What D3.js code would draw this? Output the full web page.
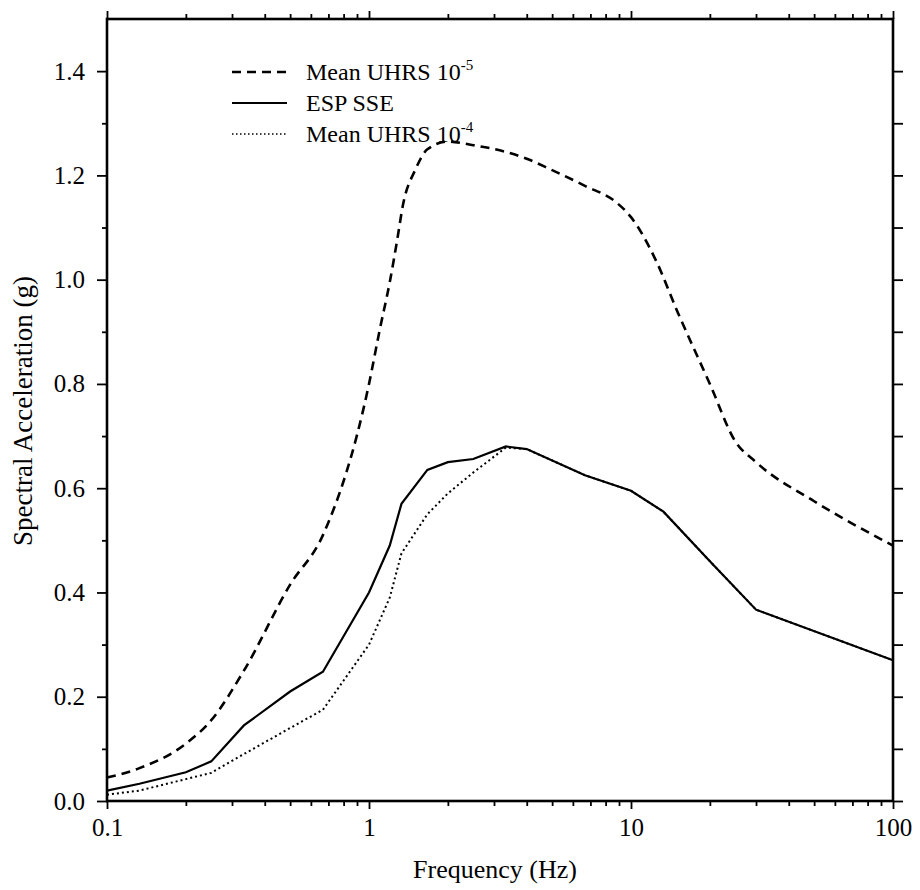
<!DOCTYPE html>
<html>
<head>
<meta charset="utf-8">
<script src="https://cdn.jsdelivr.net/npm/d3@7"></script>
<style>
  body { margin: 0; background: #fff; }
  svg { display: block; }
  svg text { font-family: "Liberation Serif", "DejaVu Serif", "Times New Roman", Times, serif !important; fill: #000; }
</style>
</head>
<body>
<svg id="chart" width="920" height="890"></svg>
<script>
// Mean UHRS 10^-5 (dashed)
const uhrs5Freq = [0.1, 0.133, 0.2, 0.25, 0.333, 0.5, 0.667, 1, 1.1, 1.2, 1.28, 1.35, 1.5, 1.67, 2, 2.5, 3.33, 4, 5, 6.67, 8.8, 10, 12.5, 15, 20, 25, 30, 50, 100];
const uhrs5Sa   = [0.045, 0.063, 0.11, 0.155, 0.25, 0.415, 0.51, 0.80, 0.905, 0.995, 1.075, 1.145, 1.21, 1.25, 1.265, 1.258, 1.245, 1.232, 1.21, 1.18, 1.148, 1.12, 1.035, 0.94, 0.80, 0.69, 0.65, 0.575, 0.49];

// ESP SSE (solid)
const sseFreq = [0.1, 0.133, 0.2, 0.25, 0.333, 0.5, 0.667, 1, 1.2, 1.33, 1.67, 2, 2.5, 3.33, 4, 6.67, 10, 13.3, 20, 30, 100];
const sseSa   = [0.02, 0.033, 0.055, 0.076, 0.145, 0.21, 0.248, 0.40, 0.49, 0.57, 0.635, 0.65, 0.656, 0.68, 0.675, 0.625, 0.595, 0.555, 0.46, 0.367, 0.27];

// Mean UHRS 10^-4 (dotted)
const uhrs4Freq = [0.1, 0.133, 0.2, 0.25, 0.333, 0.5, 0.667, 1, 1.2, 1.33, 1.67, 2, 2.5, 3.33, 4, 6.67, 10, 13.3, 20, 30, 100];
const uhrs4Sa   = [0.012, 0.02, 0.042, 0.054, 0.09, 0.14, 0.175, 0.30, 0.39, 0.475, 0.55, 0.59, 0.63, 0.678, 0.675, 0.625, 0.595, 0.555, 0.46, 0.367, 0.27];

const xMajor = [0.1, 1, 10, 100];
const xLabels = ['0.1', '1', '10', '100'];
const yMajor = [0, 0.2, 0.4, 0.6, 0.8, 1.0, 1.2, 1.4];

const width = 920, height = 890;
const margin = {top: 19, right: 27, bottom: 89, left: 107};
const iw = width - margin.left - margin.right;
const ih = height - margin.top - margin.bottom;
const serif = '"Liberation Serif", "DejaVu Serif", "Times New Roman", serif';

const svg = d3.select('#chart').attr('font-family', serif);
const g = svg.append('g').attr('transform', `translate(${margin.left},${margin.top})`);

const x = d3.scaleLog().domain([0.1, 100]).range([0, iw]);
const y = d3.scaleLinear().domain([0, 1.5]).range([ih, 0]);

// minor ticks on log axis
const xMinor = [];
[0.1, 1, 10].forEach(d => { for (let k = 2; k <= 9; k++) xMinor.push(d * k); });
const yMinor = d3.range(1, 15, 2).map(d => d / 10);
const yAll = d3.range(0, 15).map(d => d / 10);

const axisStyle = sel => {
  sel.attr('font-family', serif);
  sel.select('.domain').remove();
  sel.selectAll('line').attr('stroke', '#000').attr('stroke-width', 1.8);
};

// bottom
g.append('g').attr('transform', `translate(0,${ih})`)
  .call(d3.axisBottom(x).tickValues(xMajor).tickSize(8).tickFormat((d, i) => xLabels[i]))
  .call(axisStyle)
  .call(s => s.selectAll('text').attr('font-size', 25).attr('y', 26).attr('dy', '0.34em'));
g.append('g').attr('transform', `translate(0,${ih})`)
  .call(d3.axisBottom(x).tickValues(xMinor).tickSize(5).tickFormat(''))
  .call(axisStyle);

// top
g.append('g')
  .call(d3.axisTop(x).tickValues(xMajor).tickSize(8).tickFormat(''))
  .call(axisStyle);
g.append('g')
  .call(d3.axisTop(x).tickValues(xMinor).tickSize(5).tickFormat(''))
  .call(axisStyle);

// left
g.append('g')
  .call(d3.axisLeft(y).tickValues(yMajor).tickSize(10).tickFormat(d3.format('.1f')))
  .call(axisStyle)
  .call(s => s.selectAll('text').attr('font-size', 25).attr('x', -22));
g.append('g')
  .call(d3.axisLeft(y).tickValues(yMinor).tickSize(5).tickFormat(''))
  .call(axisStyle);

// right
g.append('g').attr('transform', `translate(${iw},0)`)
  .call(d3.axisRight(y).tickValues(yAll).tickSize(10).tickFormat(''))
  .call(axisStyle);

// frame
g.append('rect')
  .attr('width', iw).attr('height', ih)
  .attr('fill', 'none').attr('stroke', '#000').attr('stroke-width', 2.6);

// axis titles
svg.append('text')
  .attr('x', 495).attr('y', 878)
  .attr('text-anchor', 'middle')
  .attr('font-size', 26)
  .text('Frequency (Hz)');

svg.append('text')
  .attr('transform', 'translate(32,411) rotate(-90)')
  .attr('text-anchor', 'middle')
  .attr('font-size', 27)
  .text('Spectral Acceleration (g)');

// curves
const line = d3.line().x(d => x(d[0])).y(d => y(d[1]));
const smooth = d3.line().x(d => x(d[0])).y(d => y(d[1])).curve(d3.curveMonotoneX);

g.append('path')
  .datum(d3.zip(uhrs5Freq, uhrs5Sa))
  .attr('d', smooth)
  .attr('fill', 'none').attr('stroke', '#000')
  .attr('stroke-width', 2.6).attr('stroke-dasharray', '9,6');

g.append('path')
  .datum(d3.zip(uhrs4Freq, uhrs4Sa))
  .attr('d', line)
  .attr('fill', 'none').attr('stroke', '#000')
  .attr('stroke-width', 2).attr('stroke-dasharray', '2,3');

g.append('path')
  .datum(d3.zip(sseFreq, sseSa))
  .attr('d', line)
  .attr('fill', 'none').attr('stroke', '#000')
  .attr('stroke-width', 2.2);

// legend
const legend = [
  {label: 'Mean UHRS 10', sup: '-5', dash: '9,6', w: 2.6},
  {label: 'ESP SSE', sup: null, dash: null, w: 2.2},
  {label: 'Mean UHRS 10', sup: '-4', dash: '1.5,2.5', w: 1.6}
];
const lg = svg.append('g');
legend.forEach((d, i) => {
  const cy = 72 + i * 31;
  lg.append('line')
    .attr('x1', 232).attr('x2', 287).attr('y1', cy).attr('y2', cy)
    .attr('stroke', '#000').attr('stroke-width', d.w)
    .attr('stroke-dasharray', d.dash);
  const t = lg.append('text')
    .attr('x', 306).attr('y', cy + 8)
    .attr('font-size', 24)
    .text(d.label);
  if (d.sup) {
    t.append('tspan').attr('dy', -10).attr('font-size', 15).text(d.sup);
  }
});
</script>
</body>
</html>
